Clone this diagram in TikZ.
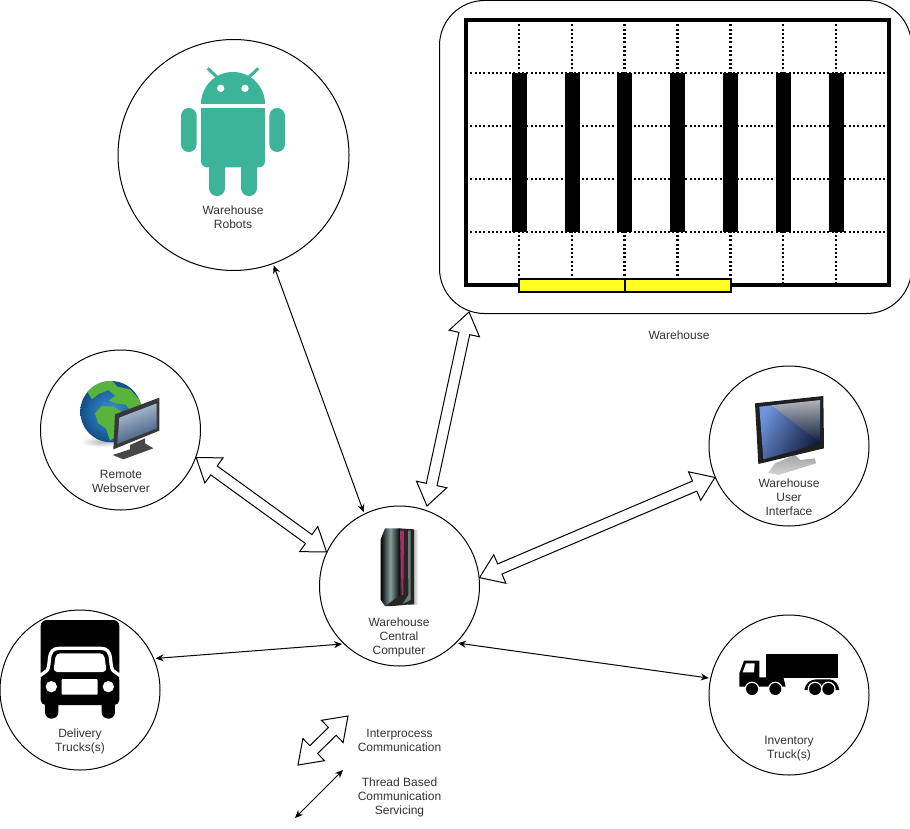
\documentclass[tikz,border=0pt]{standalone}
\usepackage{fontspec}
\setmainfont{Liberation Sans}
\usetikzlibrary{arrows.meta,calc}
\definecolor{droid}{HTML}{3BB49A}
\definecolor{ink}{gray}{0.2}
\definecolor{wyellow}{HTML}{FFFF22}
\definecolor{land}{HTML}{58B43C}
\definecolor{oceanin}{HTML}{3C97CF}
\definecolor{oceanout}{HTML}{124F8C}
\definecolor{scrA}{HTML}{B9C6D8}
\definecolor{scrB}{HTML}{37557F}
\definecolor{uiA}{HTML}{6F93DB}
\definecolor{uiB}{HTML}{0E1B3C}
\definecolor{uiC}{HTML}{BDBDBD}
\definecolor{srvmid}{HTML}{85A0A0}
\definecolor{srvpink}{HTML}{A3305F}
\definecolor{srvgreen}{HTML}{6A8078}
\newcommand\fatarrow[2]{%
 \coordinate (fa) at ($(#1)!22pt!(#2)$);
 \coordinate (fb) at ($(#2)!22pt!(#1)$);
 \draw[fatline] (#1) -- ($(fa)!15.5pt!90:(#2)$) -- ($(fa)!5.5pt!90:(#2)$) -- ($(fb)!5.5pt!-90:(#1)$) -- ($(fb)!15.5pt!-90:(#1)$) -- (#2) -- ($(fb)!15.5pt!90:(#1)$) -- ($(fb)!5.5pt!90:(#1)$) -- ($(fa)!5.5pt!-90:(#2)$) -- ($(fa)!15.5pt!-90:(#2)$) -- cycle;}
\tikzset{
 hub/.style={circle,draw=black,line width=1pt,inner sep=0pt,fill=white},
 caption/.style={align=center,inner sep=0pt,text=ink,font=\fontsize{12}{14}\selectfont},
 thin link/.style={line width=1pt,{Stealth[length=8pt,width=7pt]}-{Stealth[length=8pt,width=7pt]},shorten <=1.5pt,shorten >=1.5pt},
 fatline/.style={draw=black,line width=1pt,fill=white,line join=miter},
 grid dots/.style={line width=2.2pt,dash pattern=on 2pt off 2.3pt},
}
\begin{document}
\begin{tikzpicture}[x=1pt,y=-1pt]
\useasboundingbox (0,0) rectangle (910,829);
% hubs
\node[hub,minimum size=231pt] (robots) at (233.5,155) {};
\node[hub,minimum size=160pt] (web) at (120.5,430) {};
\node[hub,minimum size=160pt] (cen) at (399.5,586) {};
\node[hub,minimum size=160pt] (truck) at (80,690) {};
\node[hub,minimum size=160pt] (inv) at (789,695) {};
\node[hub,minimum size=160pt] (ui) at (789,446) {};
\node[draw=black,line width=1pt,rounded corners=45pt,minimum width=472pt,minimum height=313pt,inner sep=0pt,anchor=north west] (wh) at (439,0) {};
% warehouse plan
\foreach \y in {73,126,179,232} \draw[grid dots] (466,\y) -- (889,\y);
\foreach \x in {519,572,624.5,677.5,730.5,783,836} \draw[grid dots] (\x,20) -- (\x,285);
\foreach \x in {519,572,624.5,677.5,730.5,783,836} \fill[black] (\x-7.5,73) rectangle (\x+7.5,232);
\draw[line width=4.6pt,line join=miter] (466,20) rectangle (889,285);
\draw[line width=2pt,fill=wyellow] (519,279) rectangle (625,291.5);
\draw[line width=2pt,fill=wyellow] (625,279) rectangle (731,291.5);
% android
\begin{scope}[shift={(170,60)},scale=0.33333]
 \draw[droid,line width=3pt] (113,25) -- (150,60) (265,25) -- (228,60);
 \fill[droid] (93,132) arc[start angle=180,end angle=360,x radius=96,y radius=96] -- cycle;
 \fill[white] (152,85) circle (11) (225,85) circle (11);
 \fill[droid,rounded corners=6pt] (93,144) rectangle (285,322);
 \fill[droid] (93,144) rectangle (285,240);
 \fill[droid,rounded corners=7.8pt] (33,144) rectangle (80,276) (298,144) rectangle (345,276);
 \fill[droid,rounded corners=7.8pt] (117,280) rectangle (165,408) (213,280) rectangle (261,408);
\end{scope}
% globe and monitor
\begin{scope}[shift={(30,370)},scale=0.33333]
 \shade[inner color=gray!55,outer color=white] (215,215) ellipse (65 and 16);
 \shade[inner color=oceanin,outer color=oceanout] (243,125) circle (92);
 \begin{scope}
  \clip (243,125) circle (92);
  \fill[land] (170,62) -- (200,42) -- (245,30) -- (262,50) -- (300,58) -- (338,100) -- (342,135) -- (312,138) -- (288,104) -- (258,100) -- (236,92) -- (256,78) -- (236,60) -- (206,72) -- (186,88) -- cycle;
  \fill[land] (195,130) -- (215,108) -- (250,110) -- (280,128) -- (292,140) -- (264,195) -- (240,212) -- (228,175) -- (205,160) -- cycle;
 \end{scope}
 \fill[black!72] (300,225) -- (345,205) -- (345,220) -- (370,235) -- (280,268) -- (248,255) -- (300,238) -- cycle;
 \fill[black!78] (255,133) -- (388,83) -- (388,182) -- (250,238) -- cycle;
 \shade[left color=scrA,right color=scrB,shading angle=20] (268,143) -- (380,100) -- (380,175) -- (262,222) -- cycle;
\end{scope}
% server
\begin{scope}[shift={(340,500)},scale=0.33333]
 \shade[left color=black!55,right color=black!5] (205,92) rectangle (233,312);
 \fill[black!85] (178,85) -- (222,88) -- (222,312) -- (160,318) -- (135,318) -- (165,285) -- cycle;
 \shade[left color=black,right color=black,middle color=srvmid] (122,118) -- (135,85) -- (180,85) -- (180,285) -- (135,318) -- (122,300) -- cycle;
 \fill[srvpink] (180,92) -- (192,92) -- (190,285) -- (185,285) -- cycle;
 \fill[srvgreen] (204,92) -- (212,92) -- (212,300) -- (188,312) -- (205,285) -- cycle;
\end{scope}
% user interface monitor
\begin{scope}[shift={(700,380)},scale=0.33333]
 \shade[top color=gray!70,bottom color=gray!35] (225,250) -- (285,225) -- (300,240) -- (345,235) -- (348,250) -- (235,285) -- (205,278) -- cycle;
 \fill[black!88] (165,70) -- (370,48) -- (372,205) -- (175,252) -- cycle;
 \shade[left color=uiA,right color=uiB,shading angle=60] (178,80) -- (362,60) -- (362,190) -- (190,238) -- cycle;
 \shade[top color=uiC,bottom color=uiB,opacity=0.9] (362,60) -- (215,76) -- (362,190) -- cycle;
\end{scope}
% delivery truck
\begin{scope}[shift={(0,610)},scale=0.33333]
 \fill[black,rounded corners=6pt] (122,220) -- (122,30) -- (358,30) -- (358,220) -- cycle;
 \fill[black,rounded corners=5pt] (122,195) rectangle (358,285);
 \fill[black,rounded corners=6.5pt] (135,250) rectangle (175,326) (305,250) rectangle (345,326);
 \draw[white,line width=3.3pt,line cap=butt] (118,198) -- (138,184) .. controls (145,180) and (146,170) .. (148,150) .. controls (150,125) and (158,115) .. (178,115) -- (302,115) .. controls (322,115) and (330,125) .. (332,150) .. controls (334,170) and (335,180) .. (342,184) -- (362,198);
 \fill[white,rounded corners=4pt] (160,186) -- (168,130) -- (312,130) -- (320,186) -- cycle;
 \fill[white] (154,230) circle (17) (325,230) circle (17);
 \fill[white,rounded corners=1pt] (185,207) rectangle (293,254);
\end{scope}
% inventory truck
\begin{scope}[shift={(720,640)},scale=0.33333]
 \fill[black] (137,43) rectangle (355,113);
 \fill[black] (58,140) -- (58,100) -- (72,62) -- (118,62) -- (118,112) -- (190,112) -- (197,140) -- cycle;
 \fill[black] (253,150) .. controls (256,130) and (270,118) .. (290,118) -- (330,118) .. controls (345,120) and (356,133) .. (358,150) -- cycle;
 \fill[white] (96,147) circle (22) (166,147) circle (22) (285,147) circle (22) (325,147) circle (22);
 \fill[white] (68,97) -- (78,70) -- (104,70) -- (102,97) -- cycle;
 \fill[black] (96,147) circle (18) (166,147) circle (18) (285,147) circle (18) (325,147) circle (18);
\end{scope}
% connectors
\fatarrow{web.-20}{cen.155}
\coordinate (whtip) at (469,312);
\coordinate (cenw) at (427,506);
\fatarrow{whtip}{cenw}
\fatarrow{ui.203}{cen.6.5}
\draw[thin link] (robots.-70) -- (cen.116);
\draw[thin link] (truck.23) -- (cen.226);
\draw[thin link] (cen.-45) -- (inv.168);
% legend
\coordinate (la) at (348,716);
\coordinate (lb) at (298,765);
\fatarrow{la}{lb}
\coordinate (lc) at (343,770);
\coordinate (ld) at (295,818);
\draw[thin link,shorten <=0pt,shorten >=0pt] (lc) -- (ld);
% captions
\node[caption] (t1) at (233,217) {Warehouse\\Robots};
\node[caption] (t2) at (121,481) {Remote\\Webserver};
\node[caption] (t3) at (679,335) {Warehouse};
\node[caption] (t4) at (789,497) {Warehouse\\User\\Interface};
\node[caption] (t5) at (399,637) {Warehouse\\Central\\Computer};
\node[caption] (t6) at (80,741) {Delivery\\Trucks(s)};
\node[caption] (t7) at (789,749) {Inventory\\Truck(s)};
\node[caption] (t8) at (399.5,740) {Interprocess\\Communication};
\node[caption] (t9) at (399.5,797) {Thread Based\\Communication\\Servicing};
\end{tikzpicture}
\end{document}
